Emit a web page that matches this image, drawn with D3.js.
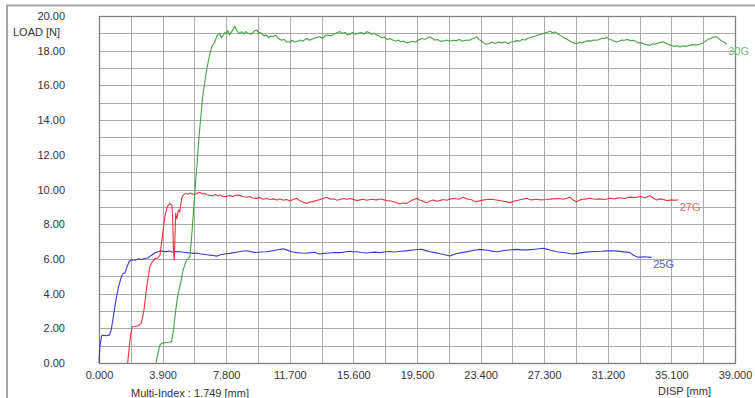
<!DOCTYPE html>
<html>
<head>
<meta charset="utf-8">
<script src="https://cdn.jsdelivr.net/npm/d3@7"></script>
<style>
  body { margin: 0; background: #fff; }
  svg { display: block; font-family: "Liberation Sans", Arial, sans-serif; }
</style>
</head>
<body>
<div id="chart"></div>
<script>
// values: [disp mm, load N]
const series25G = [
  [0, 0], [0.05, 0.9], [0.15, 1.55], [0.25, 1.6], [0.45, 1.57], [0.65, 1.62], [0.75, 1.9],
  [0.9, 2.8], [1.05, 3.7], [1.2, 4.4], [1.35, 4.9], [1.45, 5.15], [1.6, 5.2], [1.7, 5.5],
  [1.85, 5.85], [2.0, 5.95], [2.2, 5.92], [2.4, 6.0], [2.6, 5.97], [2.8, 6.02], [3.0, 6.05],
  [3.2, 6.2], [3.45, 6.35], [3.75, 6.45], [4.1, 6.42], [4.3, 6.45], [4.5, 6.38], [4.7, 6.43],
  [4.97, 6.41], [5.2, 6.38], [5.4, 6.36], [5.6, 6.34], [5.78, 6.32], [6.0, 6.34], [6.2, 6.3],
  [6.4, 6.27], [6.6, 6.24], [6.8, 6.22], [7.0, 6.2], [7.22, 6.16], [7.4, 6.22], [7.6, 6.27],
  [7.8, 6.3], [8.03, 6.32], [8.25, 6.36], [8.5, 6.4], [8.75, 6.44], [9.06, 6.47], [9.3, 6.42],
  [9.6, 6.37], [9.9, 6.4], [10.28, 6.41], [10.55, 6.46], [10.8, 6.5], [11.05, 6.54], [11.3, 6.58],
  [11.5, 6.52], [11.7, 6.45], [11.9, 6.4], [12.12, 6.36], [12.4, 6.34], [12.7, 6.33], [12.95, 6.36],
  [13.2, 6.38], [13.4, 6.32], [13.55, 6.28], [13.8, 6.32], [14.1, 6.34], [14.45, 6.37], [14.78, 6.36],
  [15.05, 6.4], [15.3, 6.44], [15.55, 6.42], [15.8, 6.41], [16.1, 6.37], [16.4, 6.34], [16.65, 6.37],
  [16.9, 6.39], [17.23, 6.36], [17.5, 6.4], [17.8, 6.43], [18.05, 6.4], [18.25, 6.41], [18.5, 6.44],
  [18.8, 6.46], [19.05, 6.49], [19.27, 6.51], [19.55, 6.54], [19.79, 6.55], [20.0, 6.49], [20.29, 6.41],
  [20.6, 6.36], [20.9, 6.3], [21.2, 6.24], [21.52, 6.17], [21.7, 6.24], [21.9, 6.3], [22.25, 6.36],
  [22.6, 6.42], [23.0, 6.5], [23.36, 6.55], [23.6, 6.52], [23.8, 6.5], [24.1, 6.45], [24.38, 6.41],
  [24.7, 6.46], [25.0, 6.5], [25.3, 6.53], [25.61, 6.55], [25.95, 6.52], [26.3, 6.52], [26.75, 6.56],
  [27.24, 6.61], [27.5, 6.55], [27.7, 6.5], [27.9, 6.45], [28.06, 6.41], [28.35, 6.38], [28.6, 6.35],
  [28.85, 6.31], [29.08, 6.28], [29.35, 6.32], [29.6, 6.36], [29.85, 6.39], [30.1, 6.41], [30.45, 6.43],
  [30.8, 6.44], [31.15, 6.46], [31.53, 6.47], [31.8, 6.45], [32.1, 6.42], [32.35, 6.39], [32.56, 6.36],
  [32.8, 6.2], [33.07, 6.09], [33.4, 6.12], [33.89, 6.09]
];

const series27G = [
  [1.76, 0], [1.85, 0.9], [1.95, 1.7], [2.04, 2.09], [2.2, 2.1], [2.4, 2.15], [2.6, 2.3],
  [2.75, 3.0], [2.9, 4.2], [3.02, 4.97], [3.12, 5.55], [3.25, 5.8], [3.43, 6.03], [3.6, 6.05],
  [3.74, 6.22], [3.9, 7.4], [4.05, 8.5], [4.19, 9.01], [4.35, 9.2], [4.47, 9.1], [4.52, 8.2],
  [4.57, 6.4], [4.62, 5.94], [4.66, 7.3], [4.7, 8.63], [4.78, 8.3], [4.86, 8.82], [4.95, 8.7],
  [5.07, 9.5], [5.17, 9.68], [5.3, 9.78], [5.45, 9.72], [5.58, 9.8], [5.72, 9.75], [5.9, 9.72],
  [6.05, 9.8], [6.19, 9.84], [6.35, 9.74], [6.5, 9.78], [6.6, 9.7], [6.8, 9.66], [7.01, 9.63],
  [7.15, 9.72], [7.3, 9.62], [7.4, 9.68], [7.6, 9.6], [7.83, 9.59], [8.0, 9.66], [8.2, 9.6],
  [8.4, 9.68], [8.65, 9.66], [8.85, 9.58], [9.06, 9.55], [9.25, 9.6], [9.45, 9.5], [9.67, 9.49],
  [9.85, 9.54], [10.05, 9.44], [10.28, 9.48], [10.5, 9.42], [10.7, 9.46], [10.9, 9.4], [11.1, 9.45],
  [11.3, 9.38], [11.5, 9.42], [11.71, 9.34], [11.9, 9.42], [12.12, 9.5], [12.25, 9.4], [12.4, 9.32],
  [12.55, 9.26], [12.73, 9.2], [12.9, 9.28], [13.1, 9.3], [13.3, 9.36], [13.55, 9.42], [13.75, 9.48],
  [13.96, 9.55], [14.2, 9.44], [14.4, 9.47], [14.6, 9.38], [14.78, 9.42], [15.0, 9.48], [15.2, 9.44],
  [15.4, 9.48], [15.59, 9.43], [15.8, 9.36], [16.0, 9.4], [16.2, 9.44], [16.41, 9.38], [16.7, 9.44],
  [17.0, 9.4], [17.3, 9.45], [17.64, 9.36], [17.9, 9.34], [18.1, 9.28], [18.3, 9.22], [18.45, 9.16],
  [18.65, 9.22], [18.87, 9.2], [19.05, 9.3], [19.2, 9.38], [19.35, 9.44], [19.48, 9.5], [19.65, 9.4],
  [19.8, 9.35], [19.95, 9.28], [20.09, 9.24], [20.3, 9.34], [20.5, 9.4], [20.7, 9.32], [20.9, 9.36],
  [21.1, 9.42], [21.32, 9.38], [21.55, 9.46], [21.8, 9.48], [22.05, 9.44], [22.34, 9.55], [22.55, 9.46],
  [22.8, 9.42], [23.0, 9.34], [23.16, 9.3], [23.4, 9.36], [23.6, 9.4], [23.9, 9.44], [24.18, 9.42],
  [24.45, 9.38], [24.7, 9.34], [24.95, 9.3], [25.2, 9.24], [25.45, 9.34], [25.7, 9.38], [25.95, 9.44],
  [26.22, 9.49], [26.5, 9.4], [26.8, 9.44], [27.1, 9.4], [27.45, 9.42], [27.8, 9.46], [28.2, 9.48],
  [28.5, 9.44], [28.88, 9.55], [29.1, 9.38], [29.29, 9.3], [29.5, 9.4], [29.7, 9.44], [29.9, 9.46],
  [30.1, 9.5], [30.4, 9.44], [30.7, 9.46], [31.0, 9.42], [31.33, 9.5], [31.6, 9.46], [31.9, 9.52],
  [32.2, 9.48], [32.56, 9.56], [32.9, 9.54], [33.2, 9.6], [33.5, 9.52], [33.78, 9.64], [34.0, 9.5],
  [34.19, 9.4], [34.4, 9.46], [34.6, 9.42], [34.85, 9.36], [35.1, 9.4], [35.3, 9.38], [35.52, 9.4]
];

const series30G = [
  [3.49, 0], [3.6, 0.5], [3.72, 1.0], [3.84, 1.13], [4.1, 1.18], [4.3, 1.2], [4.45, 1.23],
  [4.55, 1.8], [4.7, 3.0], [4.85, 4.0], [5.0, 4.6], [5.16, 5.36], [5.27, 5.7], [5.37, 5.94],
  [5.5, 6.05], [5.57, 6.1], [5.7, 7.5], [5.85, 9.5], [5.98, 11.1], [6.15, 13.2], [6.35, 15.3],
  [6.6, 16.9], [6.75, 17.6], [6.9, 18.2], [7.1, 18.5], [7.25, 18.9], [7.4, 19.0], [7.5, 18.75],
  [7.6, 18.85], [7.7, 19.05], [7.8, 18.95], [7.9, 19.15], [8.0, 18.9], [8.1, 19.05], [8.2, 19.2],
  [8.33, 19.4], [8.45, 19.15], [8.6, 19.0], [8.75, 19.1], [8.9, 18.95], [9.0, 19.1], [9.15, 19.0],
  [9.3, 18.95], [9.45, 19.05], [9.55, 19.15], [9.67, 19.2], [9.8, 19.0], [9.9, 19.05], [10.0, 18.95],
  [10.15, 18.85], [10.28, 18.9], [10.4, 18.75], [10.55, 18.85], [10.7, 18.8], [10.85, 18.9], [11.0, 18.7],
  [11.2, 18.6], [11.35, 18.65], [11.5, 18.5], [11.71, 18.5], [11.85, 18.6], [12.0, 18.5], [12.2, 18.55],
  [12.35, 18.62], [12.5, 18.55], [12.73, 18.7], [12.9, 18.6], [13.1, 18.68], [13.3, 18.75], [13.55, 18.8],
  [13.7, 18.7], [13.85, 18.85], [14.0, 18.9], [14.2, 18.85], [14.4, 18.95], [14.6, 19.05], [14.78, 19.1],
  [14.95, 19.0], [15.1, 19.05], [15.25, 18.9], [15.39, 18.95], [15.55, 19.05], [15.7, 18.95], [15.9, 19.0],
  [16.1, 19.05], [16.25, 18.95], [16.41, 19.1], [16.55, 19.05], [16.7, 18.95], [16.85, 19.0], [17.03, 18.9],
  [17.2, 18.85], [17.35, 18.75], [17.5, 18.78], [17.7, 18.65], [17.85, 18.7], [18.04, 18.6], [18.2, 18.55],
  [18.35, 18.62], [18.5, 18.52], [18.7, 18.55], [18.9, 18.45], [19.07, 18.5], [19.25, 18.55], [19.4, 18.5],
  [19.6, 18.62], [19.8, 18.7], [20.0, 18.65], [20.15, 18.75], [20.29, 18.8], [20.45, 18.7], [20.6, 18.6],
  [20.75, 18.65], [20.9, 18.55], [21.11, 18.55], [21.3, 18.62], [21.5, 18.55], [21.7, 18.6], [21.9, 18.58],
  [22.1, 18.65], [22.3, 18.55], [22.5, 18.62], [22.75, 18.6], [22.9, 18.7], [23.05, 18.75], [23.16, 18.8],
  [23.3, 18.65], [23.45, 18.58], [23.6, 18.45], [23.77, 18.37], [23.95, 18.42], [24.1, 18.5], [24.3, 18.42],
  [24.5, 18.5], [24.7, 18.45], [24.9, 18.5], [25.1, 18.42], [25.25, 18.5], [25.4, 18.52], [25.6, 18.58],
  [25.8, 18.55], [25.95, 18.65], [26.15, 18.62], [26.3, 18.72], [26.43, 18.75], [26.6, 18.8], [26.8, 18.85],
  [27.0, 18.92], [27.2, 18.98], [27.4, 19.05], [27.55, 19.08], [27.65, 19.12], [27.8, 19.05], [28.0, 19.08],
  [28.15, 18.95], [28.27, 18.9], [28.45, 18.78], [28.6, 18.7], [28.8, 18.6], [28.95, 18.52], [29.1, 18.45],
  [29.29, 18.4], [29.45, 18.48], [29.6, 18.45], [29.8, 18.52], [30.0, 18.58], [30.15, 18.55], [30.31, 18.62],
  [30.5, 18.6], [30.7, 18.65], [30.85, 18.72], [31.0, 18.7], [31.13, 18.78], [31.3, 18.65], [31.45, 18.62],
  [31.6, 18.55], [31.74, 18.5], [31.9, 18.55], [32.05, 18.62], [32.2, 18.6], [32.4, 18.65], [32.6, 18.58],
  [32.76, 18.6], [32.95, 18.52], [33.1, 18.45], [33.3, 18.45], [33.45, 18.38], [33.6, 18.35], [33.78, 18.3],
  [33.95, 18.4], [34.1, 18.38], [34.2, 18.42], [34.4, 18.48], [34.6, 18.5], [34.8, 18.42], [34.95, 18.35],
  [35.1, 18.3], [35.3, 18.25], [35.45, 18.28], [35.62, 18.2], [35.8, 18.28], [36.0, 18.25], [36.2, 18.3],
  [36.4, 18.35], [36.6, 18.32], [36.85, 18.37], [37.05, 18.45], [37.2, 18.55], [37.35, 18.65], [37.5, 18.7],
  [37.65, 18.78], [37.87, 18.8], [38.0, 18.7], [38.1, 18.62], [38.2, 18.55], [38.35, 18.48], [38.49, 18.37]
];

const xTicks = [0, 3.9, 7.8, 11.7, 15.6, 19.5, 23.4, 27.3, 31.2, 35.1, 39.0];
const yTicks = [0, 2, 4, 6, 8, 10, 12, 14, 16, 18, 20];

const seriesList = [
  { name: "25G", data: series25G, color: "#3a3ad0", text: "#5a5ad8" },
  { name: "27G", data: series27G, color: "#e8343f", text: "#e26a6a" },
  { name: "30G", data: series30G, color: "#43a443", text: "#6cbf6c" }
];

const W = 755, H = 398;
const plot = { left: 99, right: 735, top: 16, bottom: 363 };

const svg = d3.select("#chart").append("svg")
  .attr("width", W)
  .attr("height", H);

// outer frame
svg.append("path")
  .attr("d", `M7,${H + 2} L7,5.5 L${W + 2},5.5`)
  .attr("fill", "none")
  .attr("stroke", "#a8a8a8")
  .attr("stroke-width", 2);

const x = d3.scaleLinear().domain([0, 39]).range([plot.left, plot.right]);
const y = d3.scaleLinear().domain([0, 20]).range([plot.bottom, plot.top]);

// grid
svg.append("g").selectAll("line")
  .data(d3.range(1, 20))
  .enter().append("line")
  .attr("x1", d => Math.round(x(d * 1.95)) + 0.5)
  .attr("x2", d => Math.round(x(d * 1.95)) + 0.5)
  .attr("y1", plot.top)
  .attr("y2", plot.bottom)
  .attr("stroke", "#aaa")
  .attr("stroke-width", 1);

svg.append("g").selectAll("line")
  .data(d3.range(1, 20))
  .enter().append("line")
  .attr("x1", plot.left)
  .attr("x2", plot.right)
  .attr("y1", d => Math.round(y(d)) + 0.5)
  .attr("y2", d => Math.round(y(d)) + 0.5)
  .attr("stroke", "#aaa")
  .attr("stroke-width", 1);

svg.append("rect")
  .attr("x", plot.left + 0.5)
  .attr("y", plot.top + 0.5)
  .attr("width", plot.right - plot.left)
  .attr("height", plot.bottom - plot.top)
  .attr("fill", "none")
  .attr("stroke", "#808080")
  .attr("stroke-width", 1.3);

// axes
const xAxis = svg.append("g")
  .attr("transform", `translate(0,${plot.bottom})`)
  .call(d3.axisBottom(x).tickValues(xTicks).tickFormat(d3.format(".3f")).tickSize(0).tickPadding(8));

const yAxis = svg.append("g")
  .attr("transform", `translate(${plot.left},0)`)
  .call(d3.axisLeft(y).tickValues(yTicks).tickFormat(d3.format(".2f")).tickSize(0).tickPadding(34));

[xAxis, yAxis].forEach(g => {
  g.select(".domain").remove();
  g.selectAll("text")
    .attr("fill", "#333")
    .style("font-size", "11px")
    .style("font-family", "Liberation Sans, Arial, sans-serif");
});

svg.append("text")
  .attr("x", 13).attr("y", 36)
  .attr("fill", "#333")
  .style("font-size", "11px")
  .text("LOAD [N]");

svg.append("text")
  .attr("x", 131).attr("y", 397)
  .attr("fill", "#333")
  .style("font-size", "11px")
  .text("Multi-Index : 1.749 [mm]");

svg.append("text")
  .attr("x", 658).attr("y", 395)
  .attr("fill", "#333")
  .style("font-size", "11px")
  .text("DISP [mm]");

// curves
const line = d3.line()
  .x(d => x(d[0]))
  .y(d => y(d[1]));

seriesList.forEach(s => {
  svg.append("path")
    .datum(s.data)
    .attr("d", line)
    .attr("fill", "none")
    .attr("stroke", s.color)
    .attr("stroke-width", 1.1)
    .attr("stroke-linejoin", "round");

  const last = s.data[s.data.length - 1];
  svg.append("text")
    .attr("x", x(last[0]) + 1.5)
    .attr("y", y(last[1]) + 11)
    .attr("fill", s.text)
    .style("font-size", "11px")
    .text(s.name);
});
</script>
</body>
</html>
